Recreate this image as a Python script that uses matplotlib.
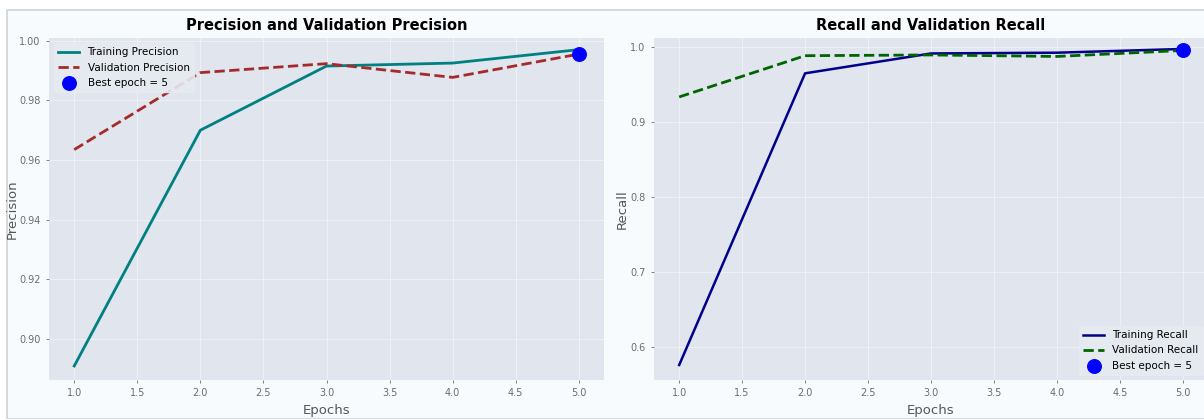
import numpy as np
import matplotlib
matplotlib.use("Agg")
import matplotlib.pyplot as plt
from matplotlib.patches import Rectangle

# Daten
epochs = [1, 2, 3, 4, 5]
train_precision = [0.891, 0.970, 0.9915, 0.9925, 0.9970]
val_precision = [0.9635, 0.9893, 0.9923, 0.9877, 0.9955]
train_recall = [0.5756, 0.9645, 0.9910, 0.9920, 0.9970]
val_recall = [0.933, 0.988, 0.989, 0.987, 0.995]
best_epoch = 5
best_precision = 0.9955
best_recall = 0.9955

fig_bg = '#f8fbfd'
ax_bg = '#e0e5ee'
tick_col = '#6b6b6b'
label_col = '#555555'

fig = plt.figure(figsize=(12.04, 4.19), dpi=100, facecolor='white')

# Rahmen der (abgeschnittenen) Originalfigur
fig.patches.append(Rectangle((7 / 1204, 0), 1.0, 1 - 10 / 419, transform=fig.transFigure,
                             facecolor=fig_bg, edgecolor='#cfd3d8', linewidth=1.2, zorder=-10))

ax1 = fig.add_axes([49 / 1204, 1 - 380 / 419, 555 / 1204, 342 / 419])
ax2 = fig.add_axes([654 / 1204, 1 - 380 / 419, 554 / 1204, 342 / 419])

for ax in (ax1, ax2):
    ax.set_facecolor(ax_bg)
    for s in ax.spines.values():
        s.set_visible(False)
    ax.grid(True, color='white', alpha=0.45, linewidth=0.8)
    ax.set_axisbelow(True)
    ax.tick_params(colors=tick_col, labelsize=7, length=2.5, width=0.6)
    ax.set_xticks(np.arange(1.0, 5.01, 0.5))
    ax.set_xlim(0.8, 5.2)

# Precision
ax1.plot(epochs, train_precision, color='teal', linewidth=2, label='Training Precision')
ax1.plot(epochs, val_precision, color='brown', linewidth=2, linestyle='--', label='Validation Precision')
ax1.scatter(best_epoch, best_precision, s=95, color='blue', label='Best epoch = 5', zorder=5)
ax1.set_title('Precision and Validation Precision', fontsize=10.5, fontweight='bold', pad=6)
ax1.set_xlabel('Epochs', fontsize=9.5, color=label_col)
ax1.set_ylabel('Precision', fontsize=9.5, color=label_col)
ax1.yaxis.set_label_coords(-0.055, 0.5)
ax1.set_ylim(0.8863, 1.0009)
ax1.set_yticks([0.90, 0.92, 0.94, 0.96, 0.98, 1.00])
ax1.set_yticklabels(['0.90', '0.92', '0.94', '0.96', '0.98', '1.00'])
ax1.legend(loc='upper left', fontsize=7.5, facecolor='#e6eaf1', edgecolor='#e8ecf2', framealpha=0.9)

# Recall
ax2.plot(epochs, train_recall, color='darkblue', linewidth=1.8, label='Training Recall')
ax2.plot(epochs, val_recall, color='darkgreen', linewidth=2, linestyle='--', label='Validation Recall')
ax2.scatter(best_epoch, best_recall, s=95, color='blue', label='Best epoch = 5', zorder=5)
ax2.set_title('Recall and Validation Recall', fontsize=10.5, fontweight='bold', pad=6)
ax2.set_xlabel('Epochs', fontsize=9.5, color=label_col)
ax2.set_ylabel('Recall', fontsize=9.5, color=label_col)
ax2.yaxis.set_label_coords(-0.045, 0.5)
ax2.set_ylim(0.5556, 1.0116)
ax2.set_yticks([0.6, 0.7, 0.8, 0.9, 1.0])
ax2.legend(loc='lower right', fontsize=7.5, facecolor='#e6eaf1', edgecolor='#e8ecf2', framealpha=0.9)

fig.savefig('out.png', dpi=100, facecolor='white')
